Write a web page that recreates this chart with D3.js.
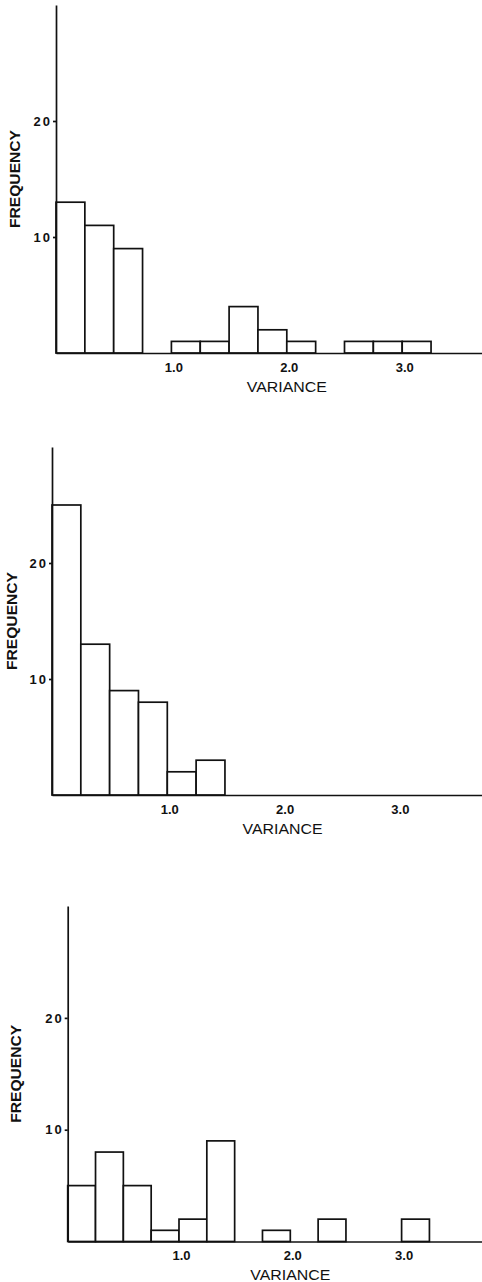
<!DOCTYPE html>
<html><head><meta charset="utf-8">
<script src="https://cdn.jsdelivr.net/npm/d3@7"></script>
<style>body{margin:0;background:#fff} svg{display:block}</style>
</head><body>
<svg id="c" width="482" height="1282"></svg>
<script>
// ---- data ----
const binStarts = [0, 0.25, 0.5, 0.75, 1.0, 1.25, 1.5, 1.75, 2.0, 2.25, 2.5, 2.75, 3.0];
const binWidth = 0.25;
const freqTop    = [13, 11, 9, 0, 1, 1, 4, 2, 1, 0, 1, 1, 1];
const freqMiddle = [25, 13, 9, 8, 2, 3, 0, 0, 0, 0, 0, 0, 0];
const freqBottom = [5, 8, 5, 1, 2, 9, 0, 1, 0, 2, 0, 0, 2];
const xTicks = [1.0, 2.0, 3.0];
const xTickLabels = ["1.0", "2.0", "3.0"];
const yTicks = [10, 20];
const yTickLabels = ["10", "20"];
const xTitle = "VARIANCE";
const yTitle = "FREQUENCY";
const xDomainMax = 3.9;
const yDomainMax = 30;

// ---- layout ----
const panels = [
  {values: freqTop,    ox: 56,   xu: 115.4, base: 353,    yu: 11.6,  titleX: 14.5},
  {values: freqMiddle, ox: 52,   xu: 115.3, base: 795,    yu: 11.6,  titleX: 12},
  {values: freqBottom, ox: 67.7, xu: 111.3, base: 1241.5, yu: 11.18, titleX: 16}
];

const svg = d3.select("#c");
const font = "'Liberation Sans', Arial, sans-serif";

panels.forEach(p => {
  const x = d3.scaleLinear().domain([0, xDomainMax]).range([p.ox, p.ox + xDomainMax * p.xu]);
  const y = d3.scaleLinear().domain([0, yDomainMax]).range([p.base, p.base - yDomainMax * p.yu]);
  const g = svg.append("g");

  const bins = binStarts.map((s, i) => ({s, v: p.values[i]})).filter(d => d.v > 0);
  g.selectAll("rect").data(bins).join("rect")
    .attr("x", d => x(d.s))
    .attr("y", d => y(d.v))
    .attr("width", d => x(d.s + binWidth) - x(d.s))
    .attr("height", d => y(0) - y(d.v))
    .attr("fill", "#fff")
    .attr("stroke", "#111")
    .attr("stroke-width", 1.7);

  // x axis
  const xa = g.append("g").attr("transform", `translate(0,${y(0)})`)
    .call(d3.axisBottom(x).tickValues(xTicks).tickFormat((d, i) => xTickLabels[i])
      .tickSize(0).tickSizeOuter(0).tickPadding(9.5));
  xa.select(".domain").attr("stroke", "#111").attr("stroke-width", 1.7);
  xa.selectAll("text").attr("font-family", font).attr("font-weight", "bold")
    .attr("font-size", 13).attr("fill", "#111").attr("dx", 2);

  // y axis
  const ya = g.append("g").attr("transform", `translate(${x(0)},0)`)
    .call(d3.axisLeft(y).tickValues(yTicks).tickFormat((d, i) => yTickLabels[i])
      .tickSize(3).tickSizeOuter(0).tickPadding(1));
  ya.select(".domain").attr("stroke", "#111").attr("stroke-width", 1.7);
  ya.selectAll("line").attr("stroke", "#111").attr("stroke-width", 1.7);
  ya.selectAll("text").attr("font-family", font).attr("font-weight", "bold")
    .attr("font-size", 13).attr("fill", "#111").attr("letter-spacing", 2);

  // titles
  g.append("text")
    .attr("x", x(2.0)).attr("y", y(0) + 38.5)
    .attr("text-anchor", "middle")
    .attr("font-family", font).attr("font-size", 15).attr("fill", "#111")
    .attr("textLength", 80).attr("lengthAdjust", "spacingAndGlyphs")
    .text(xTitle);
  g.append("text")
    .attr("transform", `translate(${p.titleX + 5.4},${y(15)}) rotate(-90)`)
    .attr("text-anchor", "middle")
    .attr("font-family", font).attr("font-weight", "bold").attr("font-size", 15).attr("fill", "#111")
    .attr("textLength", 98).attr("lengthAdjust", "spacingAndGlyphs")
    .text(yTitle);
});
</script>
</body></html>
